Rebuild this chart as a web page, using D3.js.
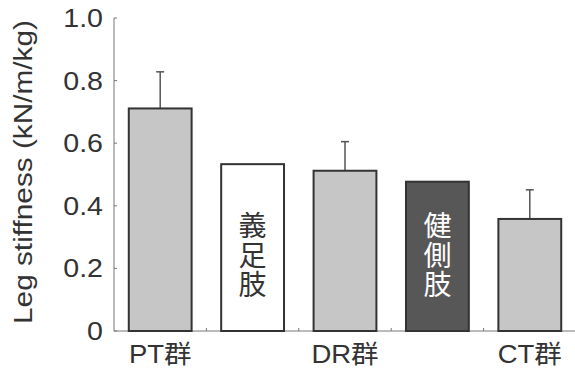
<!DOCTYPE html>
<html lang="ja">
<head>
<meta charset="utf-8">
<script src="https://d3js.org/d3.v7.min.js"></script>
<style>
  body { margin: 0; background: #fff; }
  text { font-family: "Liberation Sans", Arial, "Noto Sans CJK JP", sans-serif; }
</style>
</head>
<body>
<script>
// data
var groups   = ["PT群", "義足肢", "DR群", "健側肢", "CT群"];
var means    = [0.711, 0.533, 0.512, 0.477, 0.358];
var sdTop    = [0.828, null, 0.605, null, 0.451];
var kinds    = ["gray", "white", "gray", "dark", "gray"];
var yTicks   = [0, 0.2, 0.4, 0.6, 0.8, 1.0];
var yTickLbl = ["0", "0.2", "0.4", "0.6", "0.8", "1.0"];

var W = 575, H = 375;
var fills  = { gray: "#c6c6c6", white: "#ffffff", dark: "#575757" };
var inkCol = { gray: "#333", white: "#333", dark: "#fff" };
var wide = 1.1;   // lettering in the scan is a bit wider than Arial

var svg = d3.select("body").append("svg")
    .attr("width", W).attr("height", H);

var x = d3.scaleBand()
    .domain(groups)
    .range([114, 576])
    .paddingInner(0.32)
    .paddingOuter(0.16);

var y = d3.scaleLinear()
    .domain([0, 1])
    .range([331, 18]);

// axes
svg.append("line")
    .attr("x1", 114).attr("x2", 114)
    .attr("y1", y(0)).attr("y2", y(1))
    .attr("stroke", "#777").attr("stroke-width", 1);
svg.append("line")
    .attr("x1", 114).attr("x2", W)
    .attr("y1", y(0)).attr("y2", y(0))
    .attr("stroke", "#777").attr("stroke-width", 1);

svg.selectAll(".ytick")
    .data(yTicks)
    .enter().append("line")
    .attr("x1", 114).attr("x2", 117)
    .attr("y1", function(d) { return y(d); })
    .attr("y2", function(d) { return y(d); })
    .attr("stroke", "#777");

svg.selectAll(".ylab")
    .data(yTicks)
    .enter().append("text")
    .attr("transform", function(d) { return "translate(103," + (y(d) + 9) + ") scale(" + wide + ",1)"; })
    .attr("text-anchor", "end")
    .attr("font-size", 26)
    .attr("fill", "#333")
    .text(function(d, i) { return yTickLbl[i]; });

// small ticks between groups on the baseline
svg.selectAll(".xtick")
    .data(groups.slice(1))
    .enter().append("line")
    .attr("x1", function(d) { return x(d) - x.step() * x.paddingInner() / 2; })
    .attr("x2", function(d) { return x(d) - x.step() * x.paddingInner() / 2; })
    .attr("y1", y(0)).attr("y2", y(0) - 3)
    .attr("stroke", "#777");

svg.append("text")
    .attr("transform", "translate(32,172) rotate(-90)")
    .attr("text-anchor", "middle")
    .attr("font-size", 25)
    .attr("textLength", 304)
    .attr("lengthAdjust", "spacingAndGlyphs")
    .attr("fill", "#333")
    .text("Leg stiffness (kN/m/kg)");

// error bars (upper only)
var eb = svg.selectAll(".err")
    .data(groups.filter(function(d, i) { return sdTop[i] != null; }))
    .enter().append("g");
eb.append("line")
    .attr("x1", function(d) { return x(d) + x.bandwidth() / 2; })
    .attr("x2", function(d) { return x(d) + x.bandwidth() / 2; })
    .attr("y1", function(d) { return y(means[groups.indexOf(d)]); })
    .attr("y2", function(d) { return y(sdTop[groups.indexOf(d)]); })
    .attr("stroke", "#555").attr("stroke-width", 1.5);
eb.append("line")
    .attr("x1", function(d) { return x(d) + x.bandwidth() / 2 - 4; })
    .attr("x2", function(d) { return x(d) + x.bandwidth() / 2 + 4; })
    .attr("y1", function(d) { return y(sdTop[groups.indexOf(d)]); })
    .attr("y2", function(d) { return y(sdTop[groups.indexOf(d)]); })
    .attr("stroke", "#555").attr("stroke-width", 1.5);

// bars
svg.selectAll(".bar")
    .data(groups)
    .enter().append("rect")
    .attr("x", function(d) { return x(d); })
    .attr("y", function(d, i) { return y(means[i]); })
    .attr("width", x.bandwidth())
    .attr("height", function(d, i) { return y(0) - y(means[i]); })
    .attr("fill", function(d, i) { return fills[kinds[i]]; })
    .attr("stroke", "#333")
    .attr("stroke-width", 2);

// labels: groups under the axis, limbs written vertically inside the bar
groups.forEach(function(g, i) {
  var cx = x(g) + x.bandwidth() / 2;
  if (g.indexOf("群") >= 0) {
    svg.append("text")
      .attr("transform", "translate(" + cx + ",363) scale(" + wide + ",1)")
      .attr("text-anchor", "middle")
      .attr("font-size", 25)
      .attr("fill", "#333")
      .text(g);
  } else {
    svg.append("text")
      .attr("x", cx).attr("y", 256)
      .attr("text-anchor", "middle")
      .attr("font-size", 28)
      .attr("fill", inkCol[kinds[i]])
      .style("font-family", "'Noto Sans CJK JP', sans-serif")
      .style("writing-mode", "vertical-rl")
      .style("letter-spacing", "1.5px")
      .text(g);
  }
});
</script>
</body>
</html>
